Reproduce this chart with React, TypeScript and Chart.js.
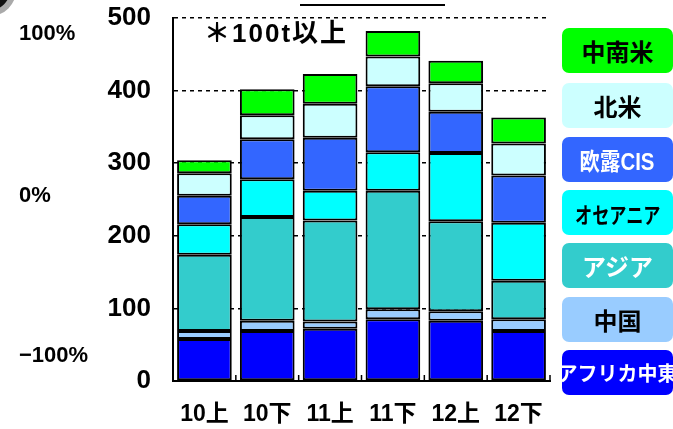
import React, { useEffect, useRef } from "react";
import { Chart, registerables } from "chart.js";

Chart.register(...registerables);

const categories = ["10上", "10下", "11上", "11下", "12上", "12下"];
const seriesNames = ["アフリカ中東", "中国", "アジア", "オセアニア", "欧露CIS", "北米", "中南米"];
const africaME = [58, 69, 72, 85, 83, 69];
const china = [11, 14, 10, 14, 13, 16];
const asia = [105, 143, 139, 163, 124, 53];
const oceania = [42, 52, 41, 53, 94, 80];
const euCIS = [39, 55, 73, 91, 57, 65];
const northAm = [31, 33, 47, 41, 39, 44];
const latinAm = [18, 36, 41, 35, 31, 36];
const seriesColors = ["#0000FF", "#99CCFF", "#33CCCC", "#00FFFF", "#3366FF", "#CCFFFF", "#00FF00"];
const legendTextColors = ["#FFFFFF", "#000000", "#FFFFFF", "#000000", "#FFFFFF", "#000000", "#000000"];
const yTicks = [0, 100, 200, 300, 400, 500];
const sideLabels = ["100%", "0%", "−100%"];
const note = "＊100t以上";

const FONT = '"Liberation Sans", "Noto Sans CJK JP", Arial, sans-serif';

const innerTicks = {
  id: "innerTicks",
  afterDatasetsDraw(chart: any) {
    const x = chart.scales.x;
    const bottom = chart.chartArea.bottom;
    const ctx = chart.ctx;
    ctx.save();
    ctx.strokeStyle = "#000000";
    ctx.lineWidth = 1.5;
    const n = categories.length;
    for (let i = 0; i < n; i++) {
      const half = (x.getPixelForValue(1) - x.getPixelForValue(0)) / 2;
      const px = x.getPixelForValue(i) + half;
      ctx.beginPath();
      ctx.moveTo(px, bottom);
      ctx.lineTo(px, bottom - 6);
      ctx.stroke();
    }
    ctx.restore();
  },
};

export default function App() {
  const ref = useRef<HTMLCanvasElement | null>(null);

  useEffect(() => {
    if (!ref.current) return;
    const values = [africaME, china, asia, oceania, euCIS, northAm, latinAm];
    const chart = new Chart(ref.current, {
      type: "bar",
      data: {
        labels: categories,
        datasets: seriesNames.map((name, i) => ({
          label: name,
          data: values[i],
          backgroundColor: seriesColors[i],
          borderColor: "#000000",
          borderWidth: 2,
          borderSkipped: false,
          barPercentage: 0.87,
          categoryPercentage: 1,
        })),
      },
      plugins: [innerTicks],
      options: {
        animation: false,
        responsive: false,
        maintainAspectRatio: false,
        layout: { padding: { top: 18, right: 123, left: 0, bottom: 0 } },
        plugins: { legend: { display: false }, tooltip: { enabled: false } },
        scales: {
          x: {
            stacked: true,
            grid: { display: false },
            border: { display: true, color: "#000000", width: 2 },
            ticks: {
              color: "#000000",
              font: { family: FONT, size: 23, weight: "bold" },
              padding: 12,
              maxRotation: 0,
            },
            afterFit: (s: any) => {
              s.height = 48;
            },
          },
          y: {
            stacked: true,
            min: yTicks[0],
            max: yTicks[yTicks.length - 1],
            afterBuildTicks: (s: any) => {
              s.ticks = yTicks.map((v) => ({ value: v }));
            },
            grid: { color: "#000000", lineWidth: 1.5, drawTicks: false },
            border: { display: true, color: "#000000", width: 2, dash: [4, 4] },
            ticks: {
              color: "#000000",
              font: { family: FONT, size: 26, weight: "bold" },
              padding: 22,
            },
            afterFit: (s: any) => {
              s.width = 173;
              s.paddingTop = 0;
              s.paddingBottom = 0;
            },
          },
        },
      },
    });
    return () => chart.destroy();
  }, []);

  const legendOrder = [6, 5, 4, 3, 2, 1, 0];
  const legendTops = [28, 83, 137, 190, 243, 297, 350];
  const legendSizes = [24, 24, 24, 22, 24, 24, 20];
  const legendScale = [1, 1, 0.85, 0.78, 1, 1, 1];

  return (
    <div
      style={{
        position: "fixed",
        left: 0,
        top: 0,
        width: 673,
        height: 429,
        background: "#ffffff",
        overflow: "hidden",
        fontFamily: FONT,
      }}
    >
      <div
        style={{
          position: "absolute",
          left: -36,
          top: -36,
          width: 40,
          height: 40,
          borderRadius: "50%",
          background: "#111111",
          border: "6px solid #aaaaaa",
        }}
      />
      <div style={{ position: "absolute", left: 300, top: 4, width: 145, height: 2, background: "#000" }} />
      <canvas ref={ref} width={673} height={429} style={{ position: "absolute", left: 0, top: 0 }} />
      <div
        style={{
          position: "absolute",
          left: 204,
          top: 17,
          fontSize: 26,
          fontWeight: "bold",
          letterSpacing: 2,
          color: "#000",
          lineHeight: "32px",
          whiteSpace: "nowrap",
        }}
      >
        {note}
      </div>
      {sideLabels.map((t, i) => (
        <div
          key={t}
          style={{
            position: "absolute",
            left: 19,
            top: [18, 180, 340][i],
            fontSize: 22,
            fontWeight: "bold",
            lineHeight: "30px",
            color: "#000",
            whiteSpace: "nowrap",
          }}
        >
          {t}
        </div>
      ))}
      {legendOrder.map((si, k) => (
        <div
          key={seriesNames[si]}
          style={{
            position: "absolute",
            left: 562,
            top: legendTops[k],
            width: 111,
            height: 45,
            borderRadius: 7,
            background: seriesColors[si],
            color: legendTextColors[si],
            display: "flex",
            alignItems: "center",
            justifyContent: "center",
            fontSize: legendSizes[k],
            fontWeight: "bold",
            whiteSpace: "nowrap",
            overflow: "visible",
          }}
        >
          <span
            style={{
              whiteSpace: "nowrap",
              display: "inline-block",
              transform: `scaleX(${legendScale[k]})`,
            }}
          >
            {seriesNames[si]}
          </span>
        </div>
      ))}
    </div>
  );
}
